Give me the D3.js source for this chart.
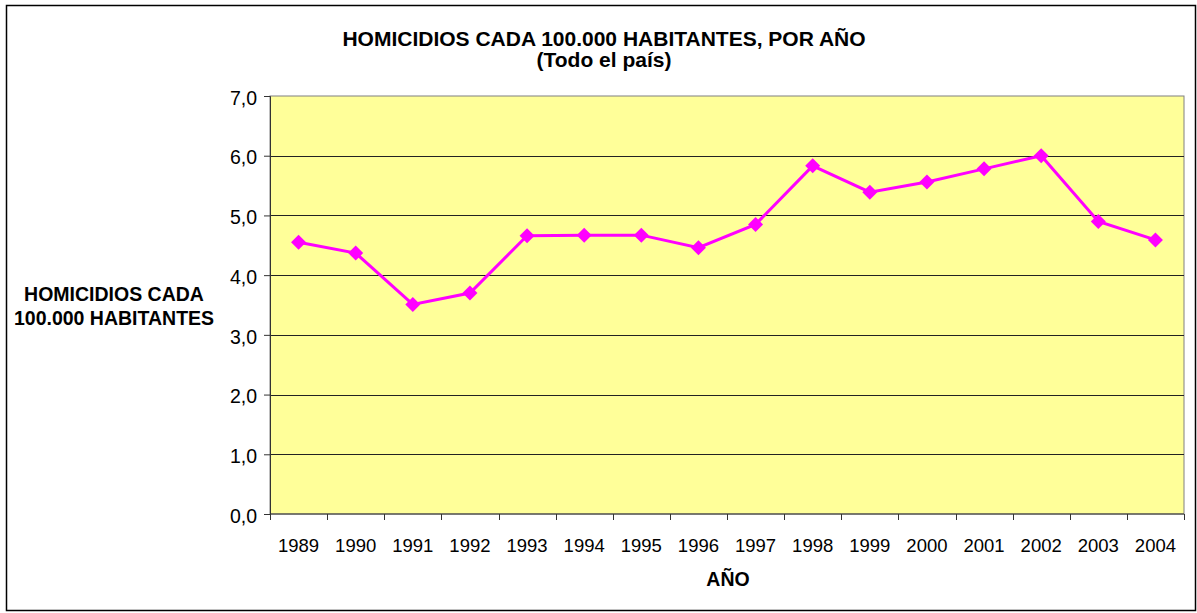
<!DOCTYPE html>
<html>
<head>
<meta charset="utf-8">
<script src="https://cdn.jsdelivr.net/npm/d3@7"></script>
<style>
  body { margin: 0; background: #fff; }
  svg text { font-family: "Liberation Sans", Arial, sans-serif; fill: #000; }
</style>
</head>
<body>
<div id="grafico"></div>
<script>
// datos
var anios = ["1989", "1990", "1991", "1992", "1993", "1994", "1995", "1996",
             "1997", "1998", "1999", "2000", "2001", "2002", "2003", "2004"];
var homicidios = [4.55, 4.37, 3.51, 3.70, 4.66, 4.67, 4.67, 4.46,
                  4.85, 5.83, 5.39, 5.56, 5.78, 6.00, 4.90, 4.59];
var ticksY = [0, 1, 2, 3, 4, 5, 6, 7];

var titulo = ["HOMICIDIOS CADA 100.000 HABITANTES, POR AÑO", "(Todo el país)"];
var tituloY = ["HOMICIDIOS CADA", "100.000 HABITANTES"];
var tituloX = "AÑO";

var ancho = 1197, alto = 613;
var margen = { left: 270, top: 96, right: 1184, bottom: 514 };

var svg = d3.select("#grafico")
    .append("svg")
    .attr("width", ancho)
    .attr("height", alto);

// marco exterior
svg.append("rect")
    .attr("x", 6.5).attr("y", 5.5)
    .attr("width", 1189).attr("height", 605)
    .attr("fill", "#fff")
    .attr("stroke", "#000")
    .attr("stroke-width", 1.5);

var x = d3.scaleBand()
    .domain(anios)
    .range([margen.left, margen.right]);

var y = d3.scaleLinear()
    .domain([0, 7])
    .range([margen.bottom, margen.top]);

// fondo del área de trazado
svg.append("rect")
    .attr("x", margen.left).attr("y", margen.top)
    .attr("width", margen.right - margen.left)
    .attr("height", margen.bottom - margen.top)
    .attr("fill", "#FFFF99")
    .attr("stroke", "#808080")
    .attr("stroke-width", 1);

// líneas de la grilla
svg.selectAll(".grilla")
    .data(ticksY.filter(d => d > 0 && d < 7))
    .enter()
    .append("line")
    .attr("class", "grilla")
    .attr("x1", margen.left).attr("x2", margen.right)
    .attr("y1", d => Math.round(y(d)) + 0.5)
    .attr("y2", d => Math.round(y(d)) + 0.5)
    .attr("stroke", "#222")
    .attr("stroke-width", 1);

// eje Y
var ejeY = svg.append("g")
    .attr("transform", "translate(" + margen.left + ",0)")
    .call(d3.axisLeft(y)
        .tickValues(ticksY)
        .tickSize(6)
        .tickPadding(7)
        .tickFormat(d => d3.format(".1f")(d).replace(".", ",")));
ejeY.select(".domain").attr("stroke", "#333");
ejeY.selectAll(".tick line").attr("stroke", "#333");
ejeY.selectAll("text").attr("font-size", 19.5).attr("dy", "0.42em");

// eje X: las marcas van entre categorías
var ejeX = svg.append("g")
    .attr("transform", "translate(0," + margen.bottom + ")");
ejeX.append("line")
    .attr("x1", margen.left).attr("x2", margen.right)
    .attr("stroke", "#333");
ejeX.selectAll(".marca")
    .data(anios.concat(["fin"]))
    .enter()
    .append("line")
    .attr("class", "marca")
    .attr("x1", (d, i) => Math.round(margen.left + i * x.bandwidth()) + 0.5)
    .attr("x2", (d, i) => Math.round(margen.left + i * x.bandwidth()) + 0.5)
    .attr("y1", 0).attr("y2", 6)
    .attr("stroke", "#333");
ejeX.selectAll(".etiqueta")
    .data(anios)
    .enter()
    .append("text")
    .attr("class", "etiqueta")
    .attr("x", d => x(d) + x.bandwidth() / 2)
    .attr("y", 38)
    .attr("text-anchor", "middle")
    .attr("font-size", 18.5)
    .text(d => d);

// línea de la serie
var linea = d3.line()
    .x((d, i) => x(anios[i]) + x.bandwidth() / 2)
    .y(d => y(d));

svg.append("path")
    .datum(homicidios)
    .attr("d", linea)
    .attr("fill", "none")
    .attr("stroke", "#FF00FF")
    .attr("stroke-width", 3);

// marcadores en forma de rombo
svg.selectAll(".rombo")
    .data(homicidios)
    .enter()
    .append("path")
    .attr("class", "rombo")
    .attr("d", "M0,-7.5L7.5,0L0,7.5L-7.5,0Z")
    .attr("transform", (d, i) => "translate(" + (x(anios[i]) + x.bandwidth() / 2) + "," + y(d) + ")")
    .attr("fill", "#FF00FF");

// títulos
svg.selectAll(".titulo")
    .data(titulo)
    .enter()
    .append("text")
    .attr("class", "titulo")
    .attr("x", 604)
    .attr("y", (d, i) => 46 + i * 21)
    .attr("text-anchor", "middle")
    .attr("font-size", 21)
    .attr("font-weight", "bold")
    .text(d => d);

svg.selectAll(".tituloY")
    .data(tituloY)
    .enter()
    .append("text")
    .attr("class", "tituloY")
    .attr("x", 114)
    .attr("y", (d, i) => 301 + i * 24)
    .attr("text-anchor", "middle")
    .attr("font-size", 19.5)
    .attr("font-weight", "bold")
    .text(d => d);

svg.append("text")
    .attr("x", 728)
    .attr("y", 586)
    .attr("text-anchor", "middle")
    .attr("font-size", 19.5)
    .attr("font-weight", "bold")
    .text(tituloX);
</script>
</body>
</html>
